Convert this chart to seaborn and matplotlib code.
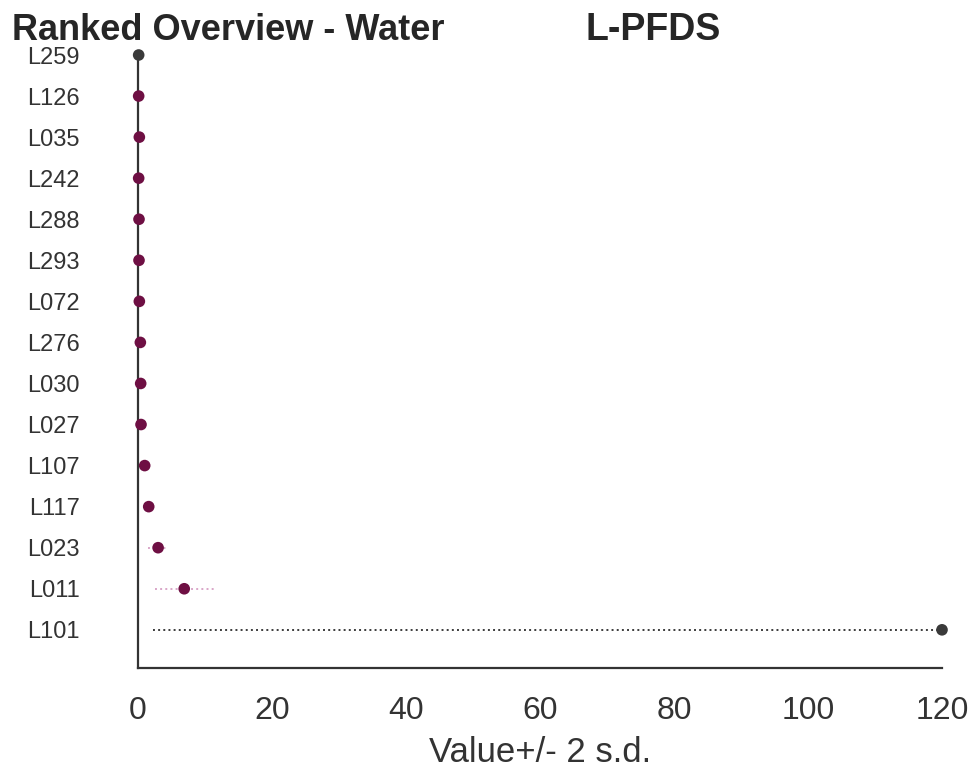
import pandas as pd
import numpy as np
from matplotlib import pyplot as plt
import seaborn as sns

labs = ["L259", "L126", "L035", "L242", "L288", "L293", "L072", "L276",
        "L030", "L027", "L107", "L117", "L023", "L011", "L101"]
vals = [0.1, 0.1, 0.2, 0.1, 0.15, 0.15, 0.2, 0.35,
        0.4, 0.45, 1.0, 1.6, 3.0, 6.9, 120.0]
two_sd = [0.05, 0.1, 0.3, 0.2, 0.2, 0.2, 0.3, 0.3,
          0.4, 0.4, 0.6, 0.8, 1.5, 4.4, 117.8]
grp = ["ref", "lab", "lab", "lab", "lab", "lab", "lab", "lab",
       "lab", "lab", "lab", "lab", "lab", "lab", "ref"]

sns.set_style("white")
plt.rcParams['font.family'] = ['Liberation Sans', 'DejaVu Sans']

df = pd.DataFrame({"lab": labs, "value": vals, "sd2": two_sd, "grp": grp})
df["pos"] = np.arange(len(df), 0, -1)

fig = plt.figure(figsize=(9.76, 7.76), dpi=100)
ax = fig.add_axes([138 / 976, 108 / 776, 804 / 976, 613 / 776])

# dotted +/- 2 s.d. bars
err_cols = {"ref": "#3c3c3c", "lab": "#d9a6c8"}
for g, sub in df.groupby("grp"):
    ax.hlines(sub["pos"], sub["value"] - sub["sd2"], sub["value"] + sub["sd2"],
              colors=err_cols[g], linestyles=":", linewidth=1.4, zorder=2)

sns.scatterplot(data=df, x="value", y="pos", hue="grp",
                palette={"ref": "#3a3a3a", "lab": "#6e0f43"},
                s=70, edgecolor="none", legend=False, ax=ax, zorder=3, clip_on=False)

ax.set_xlim(0, 120)
ax.set_ylim(0.07, 15)
ax.set_yticks(df["pos"])
ax.set_yticklabels(df["lab"], fontsize=17, color="#333333")
ax.set_xticks(range(0, 121, 20))
ax.tick_params(axis="x", labelsize=23, direction="in", length=5, width=1.2, pad=20, colors="#333333")
ax.tick_params(axis="y", direction="in", length=5, width=1.2, pad=42, colors="#333333")
ax.set_xlabel("Value+/- 2 s.d.", fontsize=25, color="#333333", labelpad=7)
ax.set_ylabel("")

sns.despine(ax=ax)
for side in ["left", "bottom"]:
    ax.spines[side].set_color("#333333")
    ax.spines[side].set_linewidth(1.6)

fig.text(12 / 976, 1 - 40 / 776, "Ranked Overview - Water", fontsize=26,
         fontweight="bold", va="baseline", ha="left")
fig.text(585 / 976, 1 - 40 / 776, "L-PFDS", fontsize=27,
         fontweight="bold", va="baseline", ha="left")

fig.savefig("out.png", dpi=100)
